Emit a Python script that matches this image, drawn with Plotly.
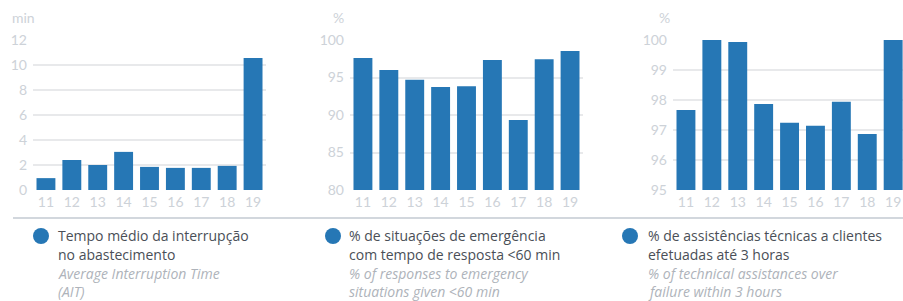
import plotly.graph_objects as go

years = ["11", "12", "13", "14", "15", "16", "17", "18", "19"]
ait_min = [0.95, 2.4, 2.0, 3.05, 1.85, 1.77, 1.77, 1.93, 10.57]
emergency_pct = [97.6, 96.0, 94.7, 93.75, 93.85, 97.35, 89.35, 97.45, 98.55]
assist_pct = [97.67, 100.0, 99.93, 97.87, 97.24, 97.14, 97.94, 96.87, 100.0]

units = ["min", "%", "%"]
yranges = [[0, 12], [80, 100], [95, 100]]
ydticks = [2, 5, 1]
titles_pt = [["Tempo médio da interrupção", "no abastecimento"],
             ["% de situações de emergência", "com tempo de resposta <60 min"],
             ["% de assistências técnicas a clientes", "efetuadas até 3 horas"]]
titles_en = [["Average Interruption Time", "(AIT)"],
             ["% of responses to emergency", "situations given <60 min"],
             ["% of technical assistances over", "failure within 3 hours"]]

W, H = 903, 301
BAR = "#2677b5"
TICK = "#cdd2d8"
GRID = "#e8e9eb"
FONT = "Lato"
TFONT = "Open Sans"

fig = go.Figure()
series = [ait_min, emergency_pct, assist_pct]
xdom = [(33, 266), (350, 583), (673, 903)]
xr = [[-0.5, 8.5], [-0.5, 8.5], [-0.5, 8.38]]
ytop, ybot = 40, 190

for i, vals in enumerate(series):
    n = "" if i == 0 else str(i + 1)
    fig.add_trace(go.Bar(x=years, y=vals, marker_color=BAR, marker_line_width=0,
                         xaxis="x" + n, yaxis="y" + n, showlegend=False))
    fig.layout["xaxis" + n] = dict(domain=[xdom[i][0] / W, xdom[i][1] / W], anchor="y" + n,
                                   type="category", range=xr[i], showgrid=False, zeroline=False,
                                   showline=False, ticks="", automargin=False, ticklabelstandoff=2,
                                   tickfont=dict(color=TICK, size=14, family=FONT))
    fig.layout["yaxis" + n] = dict(domain=[(H - ybot) / H, (H - ytop) / H], anchor="x" + n,
                                   range=yranges[i], dtick=ydticks[i], tick0=0, showgrid=True,
                                   gridcolor=GRID, gridwidth=1.5, zeroline=False, showline=False,
                                   ticks="", ticklabelstandoff=5, automargin=False,
                                   tickfont=dict(color=TICK, size=14, family=FONT))

# unit labels
unit_x = [23, 338, 664]
for i, u in enumerate(units):
    fig.add_annotation(x=unit_x[i] / W, y=(H - 18) / H, xref="paper", yref="paper",
                       text=u, showarrow=False, xanchor="center", yanchor="middle",
                       font=dict(color=TICK, size=14, family=FONT))

# separator
fig.add_shape(type="line", xref="paper", yref="paper", x0=13 / W, x1=1, y0=(H - 218) / H,
              y1=(H - 218) / H, line=dict(color="#c3cad2", width=1.5))

# legend blocks
dot_x = [41, 333, 630]
text_x = [56, 347, 646]
line_y = [235, 254, 273, 291]
for i in range(3):
    r = 8
    fig.add_shape(type="circle", xref="paper", yref="paper",
                  x0=(dot_x[i] - r) / W, x1=(dot_x[i] + r) / W,
                  y0=(H - 236 - r) / H, y1=(H - 236 + r) / H,
                  fillcolor=BAR, line_width=0)
    lines = [(t, False) for t in titles_pt[i]] + [(t, True) for t in titles_en[i]]
    for k, (t, it) in enumerate(lines):
        fig.add_annotation(x=text_x[i] / W, y=(H - line_y[k]) / H, xref="paper", yref="paper",
                           text=("<i>" + t + "</i>") if it else t, showarrow=False,
                           xanchor="left", yanchor="middle", align="left",
                           font=dict(color="#aeb3ba" if it else "#4a4f57", size=14, family=TFONT))

fig.update_layout(width=W, height=H, margin=dict(l=0, r=0, t=0, b=0),
                  paper_bgcolor="white", plot_bgcolor="white", bargap=0.27,
                  font=dict(family=FONT))

fig.write_html("out.html", config={"displayModeBar": False},
               post_script="document.body.style.margin='0';")
